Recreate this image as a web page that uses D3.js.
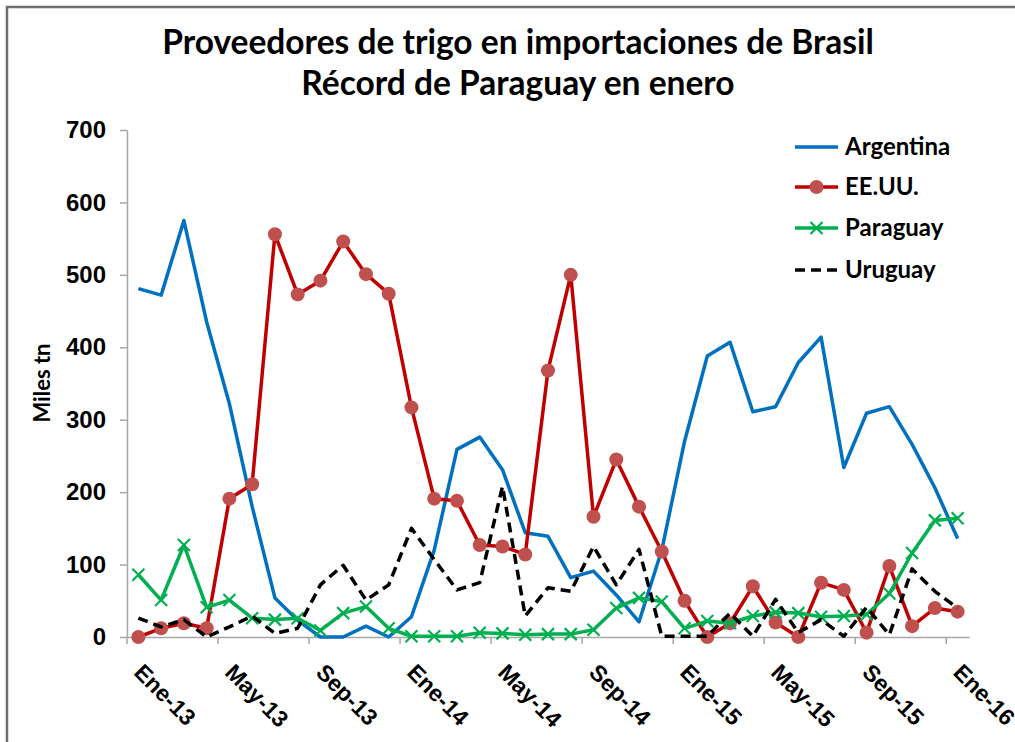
<!DOCTYPE html>
<html>
<head>
<meta charset="utf-8">
<script src="https://cdn.jsdelivr.net/npm/d3@7/dist/d3.min.js"></script>
<style>
  body { margin: 0; background: #fff; }
  svg { display: block; font-family: Lato, "Open Sans", sans-serif; }
  .axis text { font-weight: 700; fill: #000; }
</style>
</head>
<body>
<svg id="chart" width="1015" height="742"></svg>
<script>
var categories = [
  'Ene-13', 'Feb-13', 'Mar-13', 'Abr-13', 'May-13', 'Jun-13', 'Jul-13', 'Ago-13', 'Sep-13', 'Oct-13', 'Nov-13', 'Dic-13',
  'Ene-14', 'Feb-14', 'Mar-14', 'Abr-14', 'May-14', 'Jun-14', 'Jul-14', 'Ago-14', 'Sep-14', 'Oct-14', 'Nov-14', 'Dic-14',
  'Ene-15', 'Feb-15', 'Mar-15', 'Abr-15', 'May-15', 'Jun-15', 'Jul-15', 'Ago-15', 'Sep-15', 'Oct-15', 'Nov-15', 'Dic-15',
  'Ene-16'
];
var shownLabels = ['Ene-13', 'May-13', 'Sep-13', 'Ene-14', 'May-14', 'Sep-14', 'Ene-15', 'May-15', 'Sep-15', 'Ene-16'];

var argentina = [481, 472, 575, 435, 322, 180, 54, 23, 0, 0, 15, 0, 28,
  120, 259, 276, 231, 144, 139, 82, 91, 58, 21, 120, 270, 388,
  407, 311, 318, 379, 414, 234, 309, 318, 266, 206, 136];
var eeuu = [0, 12, 19, 12, 191, 211, 556, 473, 492, 546, 501, 474, 317,
  191, 188, 127, 125, 114, 368, 500, 166, 245, 180, 118, 50, 0,
  19, 70, 20, 0, 75, 65, 6, 98, 15, 40, 35];
var paraguay = [86, 51, 127, 41, 51, 26, 24, 26, 9, 33, 42, 12, 1,
  1, 1, 6, 5, 3, 4, 4, 10, 40, 54, 49, 12, 22,
  19, 29, 34, 33, 28, 29, 31, 60, 116, 161, 164];
var uruguay = [26, 14, 24, 0, 14, 29, 5, 12, 72, 99, 51, 72, 150,
  107, 65, 75, 208, 29, 68, 63, 125, 72, 121, 1, 1, 1,
  33, 1, 52, 6, 24, 1, 41, 3, 94, 63, 40];
var yTicks = [0, 100, 200, 300, 400, 500, 600, 700];

var seriesNames = ['Argentina', 'EE.UU.', 'Paraguay', 'Uruguay'];
var seriesValues = [argentina, eeuu, paraguay, uruguay];
var seriesColors = ['#0070C0', '#C00000', '#00B050', '#000000'];
var seriesMarkers = ['none', 'circle', 'cross', 'none'];
var seriesDash = [null, null, null, '10,6'];

var svg = d3.select('#chart');

// outer frame, only top and left edges show in the picture
svg.append('rect')
    .attr('x', 7).attr('y', 7)
    .attr('width', 1100).attr('height', 800)
    .attr('fill', 'none')
    .attr('stroke', '#6e6e6e')
    .attr('stroke-width', 2.5);

var x = d3.scaleBand().domain(categories).range([127, 969]);
var bw = x.bandwidth();
var y = d3.scaleLinear().domain([0, 700]).range([637, 130]);

function cx(i) { return x(categories[i]) + bw / 2; }

// title
var title = svg.append('g');
var t1 = title.append('text')
    .attr('x', 518).attr('y', 54)
    .attr('text-anchor', 'middle')
    .style('font-weight', 700)
    .style('font-size', '28px')
    .text('Proveedores de trigo en importaciones de Brasil');
var w1 = t1.node().getComputedTextLength();
var titleSize = 28 * 712 / w1;
t1.style('font-size', titleSize + 'px');
title.append('text')
    .attr('x', 518).attr('y', 95)
    .attr('text-anchor', 'middle')
    .style('font-weight', 700)
    .style('font-size', titleSize + 'px')
    .text('Récord de Paraguay en enero');

// y axis
var yAxis = svg.append('g')
    .classed('axis', true)
    .attr('transform', 'translate(127,0)')
    .call(d3.axisLeft(y).tickValues(yTicks).tickSize(7).tickPadding(14).tickSizeOuter(0));
yAxis.selectAll('text').style('font-size', '24px');
yAxis.selectAll('line, path').attr('stroke', '#A6A6A6').attr('stroke-width', 1.5);

svg.append('text')
    .attr('transform', 'translate(50,' + 383 + ') rotate(-90)')
    .attr('text-anchor', 'middle')
    .style('font-weight', 700)
    .style('font-size', '22px')
    .text('Miles tn');

// x axis
var xAxis = svg.append('g')
    .classed('axis', true)
    .attr('transform', 'translate(0,637)')
    .call(d3.axisBottom(x).tickValues(shownLabels).tickSize(7).tickSizeOuter(0));
xAxis.select('.domain').attr('stroke', '#A6A6A6').attr('stroke-width', 1.5);
xAxis.selectAll('.tick line')
    .attr('stroke', '#A6A6A6')
    .attr('stroke-width', 1.5)
    .attr('x1', -bw / 2)
    .attr('x2', -bw / 2);
xAxis.selectAll('.tick text')
    .attr('y', 0)
    .attr('dy', '0.35em')
    .attr('transform', 'translate(0,31) rotate(45)')
    .style('font-size', '23px')
    .style('text-anchor', 'start');

// series
var line = d3.line()
    .x(function(d, i) { return cx(i); })
    .y(function(d) { return y(d); });

function crossPath(s) {
    return 'M' + (-s) + ',' + (-s) + 'L' + s + ',' + s + 'M' + (-s) + ',' + s + 'L' + s + ',' + (-s);
}

seriesValues.forEach(function(vals, k) {
    var g = svg.append('g');
    g.append('path')
        .datum(vals)
        .attr('d', line)
        .attr('fill', 'none')
        .attr('stroke', seriesColors[k])
        .attr('stroke-width', 3.5)
        .attr('stroke-linejoin', 'round')
        .attr('stroke-dasharray', seriesDash[k]);
    if (seriesMarkers[k] === 'circle') {
        g.selectAll('circle')
            .data(vals)
            .enter().append('circle')
            .attr('cx', function(d, i) { return cx(i); })
            .attr('cy', function(d) { return y(d); })
            .attr('r', 7)
            .attr('fill', '#C0504D');
    } else if (seriesMarkers[k] === 'cross') {
        g.selectAll('path.mk')
            .data(vals)
            .enter().append('path')
            .classed('mk', true)
            .attr('transform', function(d, i) { return 'translate(' + cx(i) + ',' + y(d) + ')'; })
            .attr('d', crossPath(6))
            .attr('stroke', seriesColors[k])
            .attr('stroke-width', 2.2)
            .attr('fill', 'none');
    }
});

// legend
var legend = svg.append('g');
var legendY = [147, 187, 228, 270];
seriesNames.forEach(function(name, k) {
    var ly = legendY[k];
    legend.append('line')
        .attr('x1', 795).attr('x2', 838)
        .attr('y1', ly).attr('y2', ly)
        .attr('stroke', seriesColors[k])
        .attr('stroke-width', 3.5)
        .attr('stroke-dasharray', seriesDash[k]);
    if (seriesMarkers[k] === 'circle') {
        legend.append('circle')
            .attr('cx', 816.5).attr('cy', ly).attr('r', 7)
            .attr('fill', '#C0504D');
    } else if (seriesMarkers[k] === 'cross') {
        legend.append('path')
            .attr('transform', 'translate(816.5,' + ly + ')')
            .attr('d', crossPath(6))
            .attr('stroke', seriesColors[k])
            .attr('stroke-width', 2.2)
            .attr('fill', 'none');
    }
    legend.append('text')
        .attr('x', 845).attr('y', ly)
        .attr('dy', '0.35em')
        .style('font-weight', 700)
        .style('font-size', '24px')
        .text(name);
});
</script>
</body>
</html>
